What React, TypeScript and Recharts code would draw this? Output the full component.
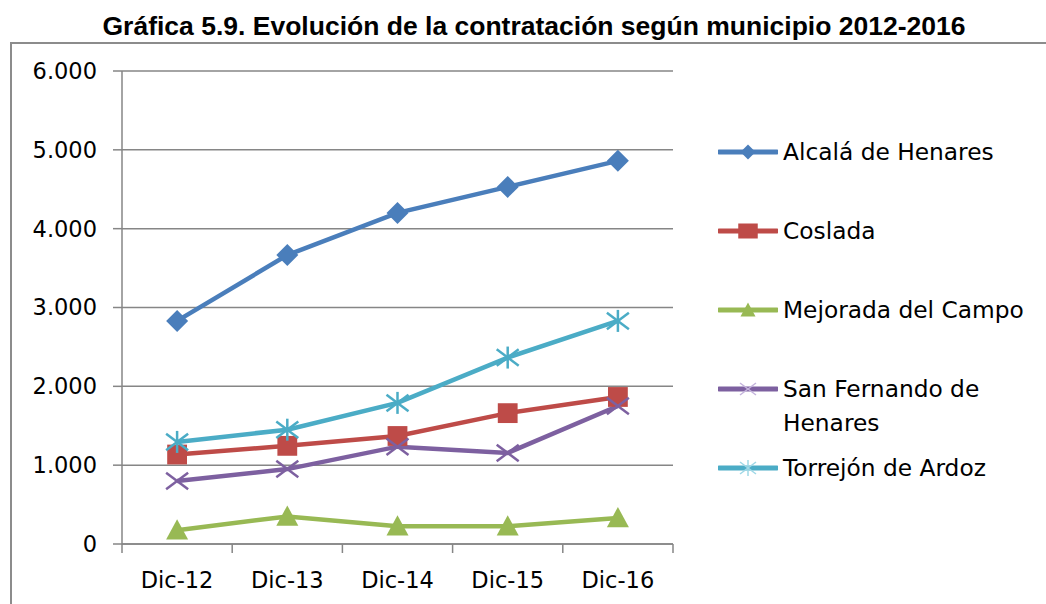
import { LineChart, Line, XAxis, YAxis, CartesianGrid, Legend } from "recharts";

const categories = ["Dic-12", "Dic-13", "Dic-14", "Dic-15", "Dic-16"];
const alcala = [2830, 3665, 4200, 4530, 4860];
const coslada = [1135, 1245, 1370, 1660, 1865];
const mejorada = [175, 350, 225, 225, 330];
const sanFernando = [800, 950, 1235, 1155, 1750];
const torrejon = [1295, 1450, 1790, 2365, 2830];
const yTicks = [0, 1000, 2000, 3000, 4000, 5000, 6000];

const data = categories.map((name, i) => ({
  name,
  alcala: alcala[i],
  coslada: coslada[i],
  mejorada: mejorada[i],
  sanFernando: sanFernando[i],
  torrejon: torrejon[i],
}));

const FONT = '"DejaVu Sans", Verdana, sans-serif';
const GRID = "#868686";
const BAND = 551 / categories.length;

const series = [
  { key: "alcala", name: "Alcalá de Henares", color: "#4A7EBB", shape: "diamond" },
  { key: "coslada", name: "Coslada", color: "#BE4B48", shape: "square" },
  { key: "mejorada", name: "Mejorada del Campo", color: "#98B954", shape: "triangle" },
  { key: "sanFernando", name: "San Fernando de Henares", color: "#7D60A0", shape: "x" },
  { key: "torrejon", name: "Torrejón de Ardoz", color: "#4BACC6", shape: "star" },
];

function marker(shape: string, cx: number, cy: number, s: number, color: string, sw = 2.5, legend = false) {
  switch (shape) {
    case "diamond":
      return <polygon points={`${cx},${cy - s} ${cx + s},${cy} ${cx},${cy + s} ${cx - s},${cy}`} fill={color} />;
    case "square":
      return legend ? (
        <rect x={cx - s * 1.3} y={cy - s} width={s * 2.6} height={s * 2} fill={color} />
      ) : (
        <rect x={cx - s * 0.9} y={cy - s * 0.9} width={s * 1.8} height={s * 1.8} fill={color} />
      );
    case "triangle":
      return <polygon points={`${cx},${cy - s} ${cx + s},${cy + s * 0.85} ${cx - s},${cy + s * 0.85}`} fill={color} />;
    case "x":
      return (
        <g stroke={color} strokeWidth={sw}>
          <line x1={cx - s} y1={cy - s * 0.75} x2={cx + s} y2={cy + s * 0.75} />
          <line x1={cx - s} y1={cy + s * 0.75} x2={cx + s} y2={cy - s * 0.75} />
        </g>
      );
    default:
      return (
        <g stroke={color} strokeWidth={sw}>
          <line x1={cx - s} y1={cy - s * 0.75} x2={cx + s} y2={cy + s * 0.75} />
          <line x1={cx - s} y1={cy + s * 0.75} x2={cx + s} y2={cy - s * 0.75} />
          <line x1={cx} y1={cy - s} x2={cx} y2={cy + s} />
        </g>
      );
  }
}

const makeDot = (shape: string, color: string) => (props: any) => (
  <g key={`${shape}-${props.index}`}>{marker(shape, props.cx, props.cy, 11, color)}</g>
);

const XTick = (props: any) => {
  const { x, y, payload, index } = props;
  const half = BAND / 2;
  return (
    <g>
      <line x1={x - half} x2={x - half} y1={y} y2={y + 9} stroke={GRID} strokeWidth={1.5} />
      {index === categories.length - 1 && (
        <line x1={x + half} x2={x + half} y1={y} y2={y + 9} stroke={GRID} strokeWidth={1.5} />
      )}
      <text x={x} y={y + 44} textAnchor="middle" fill="#000" fontFamily={FONT} fontSize={22.5}>
        {payload.value}
      </text>
    </g>
  );
};

const fmt = (v: number) => String(v).replace(/\B(?=(\d{3})+(?!\d))/g, ".");

const renderLegend = (props: any) => (
  <div style={{ fontFamily: FONT, fontSize: 23.3, color: "#000" }}>
    {props.payload.map((p: any) => {
      const s = series.find((d) => d.key === p.dataKey)!;
      return (
        <div key={s.key} style={{ display: "flex", alignItems: "flex-start", height: 79 }}>
          <svg width={60} height={34} style={{ flex: "none" }}>
            <line x1={1} x2={59} y1={17} y2={17} stroke={s.color} strokeWidth={5} strokeLinecap="round" />
            {s.shape === "x" && marker(s.shape, 30, 17, 8, "#c4b4dc", 1.5)}
            {s.shape === "star" && marker(s.shape, 30, 17, 8, "#9fd8e6", 1.5)}
            {s.shape !== "x" && s.shape !== "star" && marker(s.shape, 30, 17, 7.5, s.color, 1.5, true)}
          </svg>
          <span style={{ lineHeight: "34px", maxWidth: 262, marginLeft: 5 }}>{s.name}</span>
        </div>
      );
    })}
  </div>
);

export default function App() {
  return (
    <div style={{ position: "absolute", left: 0, top: 0, width: 1046, height: 604, overflow: "hidden", background: "#fff" }}>
      <div
        style={{
          position: "absolute",
          left: 100,
          top: 11,
          width: 868,
          textAlign: "center",
          fontFamily: '"Liberation Sans", Arial, sans-serif',
          fontWeight: "bold",
          fontSize: 26.5,
          lineHeight: "30px",
          color: "#000",
          whiteSpace: "nowrap",
        }}
      >
        Gráfica 5.9. Evolución de la contratación según municipio 2012-2016
      </div>
      <div
        style={{
          position: "absolute",
          left: 10,
          top: 42,
          width: 1100,
          height: 700,
          border: "2px solid #8c8c8c",
        }}
      />
      <div style={{ position: "absolute", left: 0, top: 0 }}>
        <LineChart width={1046} height={604} data={data} margin={{ top: 71, right: 373, bottom: 0, left: 0 }}>
          <CartesianGrid vertical={false} stroke={GRID} strokeWidth={1.5} />
          <XAxis
            dataKey="name"
            height={60}
            padding={{ left: BAND / 2, right: BAND / 2 }}
            axisLine={{ stroke: GRID, strokeWidth: 1.5 }}
            tickLine={false}
            tickSize={0}
            tickMargin={0}
            tick={<XTick />}
            interval={0}
          />
          <YAxis
            width={122}
            domain={[0, 6000]}
            ticks={yTicks}
            tickFormatter={fmt}
            axisLine={{ stroke: GRID, strokeWidth: 1.5 }}
            tickLine={{ stroke: GRID, strokeWidth: 1.5 }}
            tickSize={9}
            tickMargin={16}
            tick={{ fill: "#000", fontFamily: FONT, fontSize: 22.5 }}
          />
          <Legend
            layout="vertical"
            align="center"
            verticalAlign="middle"
            content={renderLegend}
            wrapperStyle={{ left: 718, top: 135, width: 330 }}
          />
          {series.map((s) => (
            <Line
              key={s.key}
              dataKey={s.key}
              name={s.name}
              stroke={s.color}
              strokeWidth={4.5}
              dot={makeDot(s.shape, s.color)}
              activeDot={false}
              isAnimationActive={false}
            />
          ))}
        </LineChart>
      </div>
    </div>
  );
}
